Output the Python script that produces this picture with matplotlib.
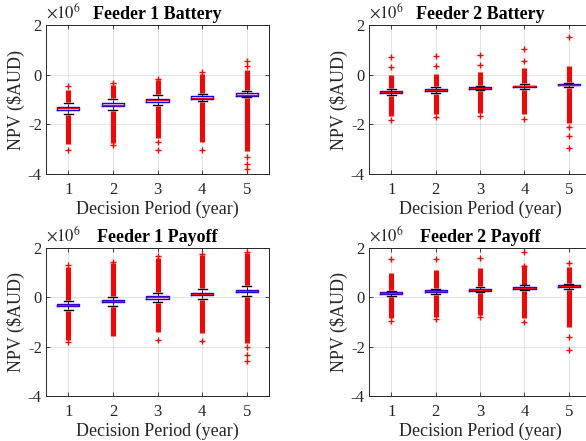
import matplotlib
matplotlib.use("Agg")
import matplotlib.pyplot as plt
import numpy as np

plt.rcParams['font.family'] = ['Liberation Serif', 'DejaVu Serif']
plt.rcParams['mathtext.fontset'] = 'stix'

# Values in millions of $AUD (axis shows x10^6)
periods = [1, 2, 3, 4, 5]
titles = ["Feeder 1 Battery", "Feeder 2 Battery", "Feeder 1 Payoff", "Feeder 2 Payoff"]

# Feeder 1 Battery
f1b_med = [-1.36, -1.21, -1.03, -0.92, -0.80]
f1b_q3 = [-1.29, -1.15, -0.97, -0.86, -0.75]
f1b_q1 = [-1.43, -1.27, -1.09, -0.98, -0.85]
f1b_whi = [-1.15, -0.97, -0.81, -0.76, -0.67]
f1b_wlo = [-1.60, -1.43, -1.24, -1.08, -0.91]
f1b_dhi = [-0.60, -0.40, -0.22, 0.02, 0.20]
f1b_dlo = [-2.80, -2.75, -2.55, -2.72, -3.07]
f1b_sparse = [[-0.45, -3.03], [-0.33, -2.83], [-0.17, -2.70, -3.03], [0.09, -3.03], [0.56, 0.35, -3.30, -3.60, -3.80]]

# Feeder 2 Battery
f2b_med = [-0.69, -0.61, -0.53, -0.47, -0.40]
f2b_q3 = [-0.65, -0.57, -0.50, -0.44, -0.37]
f2b_q1 = [-0.73, -0.65, -0.56, -0.50, -0.43]
f2b_whi = [-0.57, -0.49, -0.44, -0.37, -0.33]
f2b_wlo = [-0.83, -0.73, -0.63, -0.56, -0.49]
f2b_dhi = [0.00, 0.04, 0.09, 0.27, 0.33]
f2b_dlo = [-1.67, -1.60, -1.53, -1.60, -1.93]
f2b_sparse = [[0.73, 0.29, -1.83], [0.76, 0.33, -1.69], [0.80, 0.40, -1.67], [1.03, 0.56, -1.80], [1.53, -2.09, -2.47, -2.96]]

# Feeder 1 Payoff
f1p_med = [-0.31, -0.15, 0.00, 0.14, 0.26]
f1p_q3 = [-0.26, -0.10, 0.05, 0.19, 0.31]
f1p_q1 = [-0.36, -0.20, -0.05, 0.09, 0.21]
f1p_whi = [-0.13, 0.03, 0.19, 0.33, 0.44]
f1p_wlo = [-0.51, -0.35, -0.19, -0.05, 0.07]
f1p_dhi = [1.22, 1.40, 1.60, 1.72, 1.80]
f1p_dlo = [-1.73, -1.57, -1.39, -1.46, -1.87]
f1p_sparse = [[1.30, -1.80], [1.45], [1.66, -1.73], [1.75, -1.76], [1.84, -2.00, -2.35, -2.58]]

# Feeder 2 Payoff
f2p_med = [0.17, 0.24, 0.31, 0.38, 0.44]
f2p_q3 = [0.21, 0.28, 0.35, 0.42, 0.48]
f2p_q1 = [0.13, 0.20, 0.27, 0.34, 0.40]
f2p_whi = [0.27, 0.35, 0.42, 0.48, 0.53]
f2p_wlo = [0.06, 0.14, 0.21, 0.28, 0.35]
f2p_dhi = [1.00, 1.10, 1.20, 1.30, 1.25]
f2p_dlo = [-0.85, -0.78, -0.71, -0.85, -1.19]
f2p_sparse = [[1.55, -0.96], [1.56, -0.89], [1.59, -0.80], [1.84, 1.28, -0.99], [1.39, -1.60, -2.14]]

yticks = [-4, -2, 0, 2]
xlabel = "Decision Period (year)"
ylabel = "NPV ($AUD)"

panels = [
    (f1b_med, f1b_q1, f1b_q3, f1b_wlo, f1b_whi, f1b_dlo, f1b_dhi, f1b_sparse),
    (f2b_med, f2b_q1, f2b_q3, f2b_wlo, f2b_whi, f2b_dlo, f2b_dhi, f2b_sparse),
    (f1p_med, f1p_q1, f1p_q3, f1p_wlo, f1p_whi, f1p_dlo, f1p_dhi, f1p_sparse),
    (f2p_med, f2p_q1, f2p_q3, f2p_wlo, f2p_whi, f2p_dlo, f2p_dhi, f2p_sparse),
]

W, H = 586, 441
fig = plt.figure(figsize=(W / 100, H / 100), dpi=100)
# axes rects in pixels: (left, top, right, bottom)
rects_px = [(46, 25, 269, 174), (369, 25, 591, 174), (46, 248, 269, 396), (369, 248, 591, 396)]

txt = '#262626'
for (l, t, r, b), title, data in zip(rects_px, titles, panels):
    ax = fig.add_axes([l / W, (H - b) / H, (r - l) / W, (b - t) / H])
    med, q1, q3, wlo, whi, dlo, dhi, sparse = data
    stats = []
    for i in range(len(periods)):
        stats.append(dict(med=med[i], q1=q1[i], q3=q3[i], whislo=wlo[i], whishi=whi[i], fliers=sparse[i]))
    # dense outlier ranges beyond the whiskers
    for i, p in enumerate(periods):
        ax.plot([p, p], [whi[i] + 0.04, dhi[i]], color='red', lw=3.6, solid_capstyle='butt', zorder=2)
        ax.plot([p, p], [wlo[i] - 0.04, dlo[i]], color='red', lw=3.6, solid_capstyle='butt', zorder=2)
    ax.bxp(stats, positions=periods, widths=0.5, showfliers=True, patch_artist=False,
           boxprops=dict(color='blue', lw=1.0),
           medianprops=dict(color='red', lw=1.0),
           whiskerprops=dict(color='black', lw=0.6, ls='--'),
           capprops=dict(color='black', lw=1.0),
           capwidths=0.2,
           flierprops=dict(marker='+', markeredgecolor='red', markersize=4.5, markeredgewidth=1.0, ls='none'),
           manage_ticks=False, zorder=3)
    ax.set_xlim(0.5, 5.5)
    ax.set_ylim(-4, 2)
    ax.set_xticks(periods)
    ax.set_yticks(yticks)
    ax.set_xticklabels([str(p) for p in periods])
    ax.set_yticklabels([str(v) for v in yticks])
    ax.grid(True, color='#262626', alpha=0.15, lw=0.6)
    ax.set_axisbelow(True)
    for s in ax.spines.values():
        s.set_color(txt)
        s.set_linewidth(0.7)
    ax.tick_params(direction='in', length=3, width=0.6, colors=txt, labelsize=12,
                   top=True, right=True, pad=6)
    ax.tick_params(axis='y', pad=3)
    ax.set_xlabel(xlabel, fontsize=13, color=txt, labelpad=2)
    ax.set_ylabel(ylabel, fontsize=13, color=txt, labelpad=2)
    ax.set_title(title, fontsize=13, fontweight='bold', color='black', pad=4)
    ax.text(0.0, 1.015, r'$\times10^{6}$', transform=ax.transAxes, fontsize=12,
            color=txt, ha='left', va='bottom')

fig.savefig("out.png", dpi=100)
